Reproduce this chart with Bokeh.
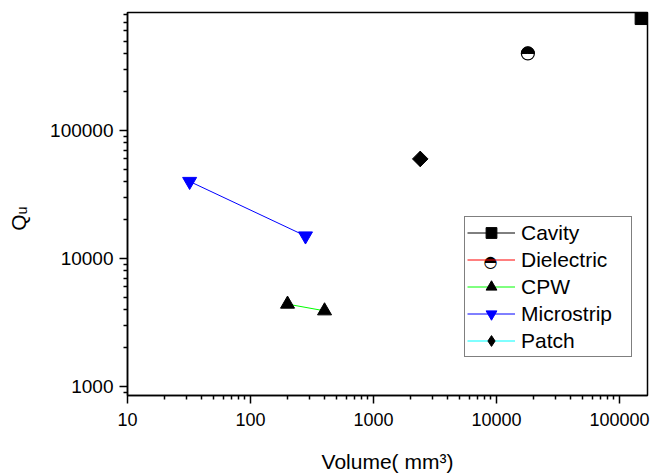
import numpy as np
from bokeh.plotting import figure
from bokeh.models import FixedTicker, PrintfTickFormatter, Legend, LegendItem, Label, Range1d
from bokeh.embed import file_html
from bokeh.resources import INLINE

# ---- data ----
cavity_x = [150000]
cavity_y = [750000]
diel_x = [18000]
diel_y = [400000]
cpw_x = [200, 400]
cpw_y = [4400, 3900]
micro_x = [32, 280]
micro_y = [40000, 15000]
patch_x = [2400]
patch_y = [60000]

x_ticks = [10, 100, 1000, 10000, 100000]
y_ticks = [1000, 10000, 100000]
series_names = ["Cavity", "Dielectric", "CPW", "Microstrip", "Patch"]

x_minor = [m * d for d in [10, 100, 1000, 10000] for m in range(2, 10)]
y_minor = [900] + [m * d for d in [1000, 10000, 100000] for m in range(2, 10)]

X0, X1 = 10, 169000
Y0, Y1 = 850, 836000
FONT = "Liberation Sans"

p = figure(x_axis_type="log", y_axis_type="log",
           x_range=Range1d(X0, X1), y_range=Range1d(Y0, Y1),
           frame_width=520, frame_height=383,
           min_border_left=127, min_border_right=5, min_border_top=12, min_border_bottom=77,
           output_backend="svg", toolbar_location=None,
           background_fill_color="white", border_fill_color="white")

p.xgrid.visible = False
p.ygrid.visible = False
p.outline_line_color = "black"
p.outline_line_width = 1.5

for ax in (p.xaxis[0], p.yaxis[0]):
    ax.axis_line_width = 1.5
    ax.axis_line_color = "black"
    ax.major_tick_line_width = 1.5
    ax.minor_tick_line_width = 1.5
    ax.major_tick_line_color = "black"
    ax.minor_tick_line_color = "black"
    ax.major_tick_in = 0
    ax.major_tick_out = 8
    ax.minor_tick_in = 0
    ax.minor_tick_out = 4
    ax.major_label_text_font = FONT
    ax.major_label_text_color = "black"
    ax.formatter = PrintfTickFormatter(format="%d")
    ax.axis_label_text_font = FONT
    ax.axis_label_text_font_style = "normal"
    ax.axis_label_text_color = "black"

p.xaxis.major_label_text_font_size = "18px"
p.yaxis.major_label_text_font_size = "19px"
p.xaxis.ticker = FixedTicker(ticks=x_ticks, minor_ticks=x_minor)
p.yaxis.ticker = FixedTicker(ticks=y_ticks, minor_ticks=y_minor)
p.xaxis.major_label_standoff = 9
p.yaxis.major_label_standoff = 6

p.xaxis.axis_label = "Volume( mm\u00b3)"
p.xaxis.axis_label_text_font_size = "21px"
p.xaxis.axis_label_standoff = 21

# Q with subscript u; trailing no-break spaces move the glyphs down a little
p.yaxis.axis_label = "Q\u1d64" + "\u00a0" * 5
p.yaxis.axis_label_text_font_size = "21px"
p.yaxis.axis_label_standoff = 17

# ---- series ----
cav_line = p.line(cavity_x, cavity_y, line_color="black", line_width=1)
cav_pts = p.scatter(cavity_x, cavity_y, marker="square", size=12,
                    fill_color="black", line_color="black")

diel_line = p.line(diel_x, diel_y, line_color="red", line_width=1)
diel_circ = p.scatter(diel_x, diel_y, marker="circle", size=13,
                      fill_color="white", line_color="black", line_width=1.2)
diel_half = p.wedge(diel_x, diel_y, radius=6.5, radius_units="screen",
                    start_angle=0, end_angle=np.pi,
                    fill_color="black", line_color="black")

cpw_line = p.line(cpw_x, cpw_y, line_color="#00ff00", line_width=1)
cpw_pts = p.scatter(cpw_x, cpw_y, marker="triangle", size=14,
                    fill_color="black", line_color="black")

micro_line = p.line(micro_x, micro_y, line_color="#0000ff", line_width=1)
micro_pts = p.scatter(micro_x, micro_y, marker="inverted_triangle", size=14,
                      fill_color="#0000ff", line_color="#0000ff")

patch_line = p.line(patch_x, patch_y, line_color="#00ffff", line_width=1)
patch_dia = p.scatter(patch_x, patch_y, marker="diamond", size=15,
                      fill_color="black", line_color="black")
patch_sq = p.scatter(patch_x, patch_y, marker="square", size=11, angle=np.pi / 4,
                     fill_color="black", line_color="black")

items = [
    LegendItem(label=series_names[0], renderers=[cav_line, cav_pts]),
    LegendItem(label=series_names[1], renderers=[diel_line]),
    LegendItem(label=series_names[2], renderers=[cpw_line, cpw_pts]),
    LegendItem(label=series_names[3], renderers=[micro_line, micro_pts]),
    LegendItem(label=series_names[4], renderers=[patch_line, patch_dia]),
]
legend = Legend(items=items, location=(337, 38), padding=2, spacing=0, margin=0,
                glyph_width=48, glyph_height=27, label_height=27, label_width=108,
                label_standoff=6, label_text_font=FONT, label_text_font_size="21px",
                label_text_color="black",
                border_line_color="black", border_line_width=1,
                background_fill_color="white", background_fill_alpha=0)
p.add_layout(legend)

# half-filled circle symbol for the Dielectric legend entry (offset from frame corner)
p.add_layout(Label(x=X0, y=Y0, x_offset=363, y_offset=134.5, text="\u25d3",
                   text_font="DejaVu Sans", text_font_size="16px", text_color="black",
                   text_align="center", text_baseline="middle",
                   background_fill_color="white", level="overlay"))

open("out.html", "w").write(file_html(p, INLINE))
